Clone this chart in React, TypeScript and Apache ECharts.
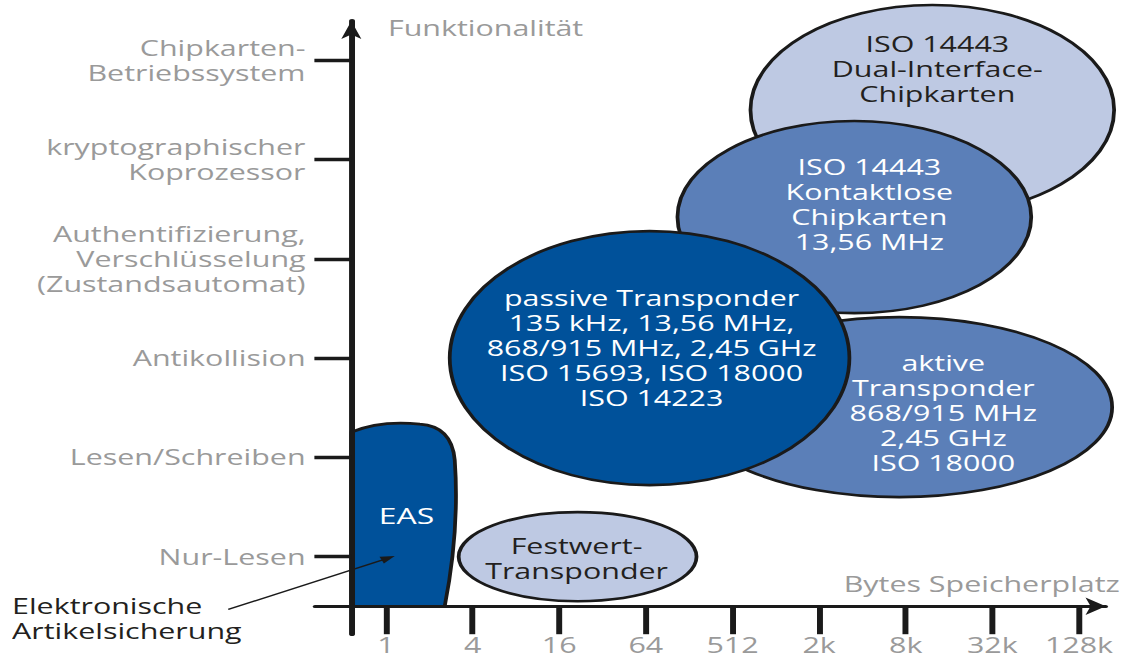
import React, { useEffect, useRef } from 'react';
import * as echarts from 'echarts';

// ---------- data ----------
const X_CATS = ['1', '4', '16', '64', '512', '2k', '8k', '32k', '128k'];
const X_TICKS = [0.4, 1.4, 2.4, 3.4, 4.4, 5.4, 6.4, 7.4, 8.4];

const Y_LEVELS = [
  'Nur-Lesen',
  'Lesen/Schreiben',
  'Antikollision',
  'Authentifizierung,\nVerschlüsselung\n(Zustandsautomat)',
  'kryptographischer\nKoprozessor',
  'Chipkarten-\nBetriebssystem',
];
const Y_TICKS = [0.5, 1.5, 2.5, 3.5, 4.5, 5.5];

// ellipses, drawn in this order (back to front)
const ELLIPSE_NAMES = ['Dual-Interface', 'Kontaktlos', 'aktiv', 'passiv', 'Festwert'];
const ELLIPSE_CX = [6.707, 5.807, 6.326, 3.443, 2.612];
const ELLIPSE_CY = [5.0, 3.921, 2.006, 2.5, 0.499];
const ELLIPSE_RX = [2.099, 2.042, 2.457, 2.307, 1.373];
const ELLIPSE_RY = [1.058, 0.968, 0.907, 1.28, 0.449];
const ELLIPSE_TONE = ['light', 'mid', 'mid', 'dark', 'light'];
const ELLIPSE_TEXT = [
  'ISO 14443\nDual-Interface-\nChipkarten',
  'ISO 14443\nKontaktlose\nChipkarten\n13,56 MHz',
  'aktive\nTransponder\n868/915 MHz\n2,45 GHz\nISO 18000',
  'passive Transponder\n135 kHz, 13,56 MHz,\n868/915 MHz, 2,45 GHz\nISO 15693, ISO 18000\nISO 14223',
  'Festwert-\nTransponder',
];
const ELLIPSE_TEXT_X = [6.765, 5.98, 6.834, 3.466, 2.6];
const ELLIPSE_TEXT_Y = [5.418, 4.047, 1.946, 2.601, 0.484];

// EAS outline (M p0 L p1 Q p2 p3 Q p4 p5 Q p6 p7 Z)
const EAS_X = [0, 0, 0.329, 0.79, 1.159, 1.194, 1.251, 1.078];
const EAS_Y = [0, 1.754, 1.875, 1.835, 1.815, 1.472, 0.766, 0];
const EAS_LABEL = ['EAS', 0.637, 0.917];

// annotation arrow
const ANNOT_FROM = [-1.421, -0.033];
const ANNOT_TO = [0.502, 0.507];

// ---------- styles ----------
const STRETCH = 1130 / 780;
const FONT = '"Open Sans", "Noto Sans", sans-serif';
const GRAY = '#9a9a9a';
const INK = '#231f20';
const AXIS = '#1a1a1a';
const TONES: Record<string, string> = { light: '#bec9e3', mid: '#5b7fb8', dark: '#00519a' };

function xLabel(v: number) {
  const i = X_TICKS.findIndex((t) => Math.abs(t - v) < 1e-6);
  return i >= 0 ? X_CATS[i] : '';
}
function yLabel(v: number) {
  const i = Y_TICKS.findIndex((t) => Math.abs(t - v) < 1e-6);
  return i >= 0 ? Y_LEVELS[i] : '';
}

function buildOption() {
  const ellipseData = ELLIPSE_NAMES.map((n, i) => ({
    name: n,
    value: [ELLIPSE_CX[i], ELLIPSE_CY[i], ELLIPSE_RX[i], ELLIPSE_RY[i], ELLIPSE_TEXT_X[i], ELLIPSE_TEXT_Y[i], i],
  }));

  return {
    animation: false,
    textStyle: { fontFamily: FONT },
    grid: { left: 217.4, right: 16.7, top: 21, bottom: 22, containLabel: false, outerBoundsMode: 'none' },
    xAxis: {
      type: 'value',
      min: -0.42,
      max: 8.71,
      z: 10,
      axisLine: {
        show: true,
        onZero: true,
        symbol: ['none', 'arrow'],
        symbolSize: [13, 14],
        lineStyle: { color: AXIS, width: 3 },
      },
      axisTick: { show: true, customValues: X_TICKS, length: 28, lineStyle: { color: AXIS, width: 4.1 } },
      axisLabel: {
        show: true,
        customValues: X_TICKS,
        formatter: xLabel,
        margin: 1,
        color: GRAY,
        fontSize: 21,
        lineHeight: 20,
        fontFamily: FONT,
      },
      splitLine: { show: false },
    },
    yAxis: {
      type: 'value',
      min: -0.28,
      max: 5.897,
      z: 10,
      axisLine: {
        show: true,
        onZero: true,
        symbol: ['none', 'arrow'],
        symbolSize: [10.4, 18],
        lineStyle: { color: AXIS, width: 4.1 },
      },
      axisTick: { show: true, customValues: Y_TICKS, length: 25.5, lineStyle: { color: AXIS, width: 3.3 } },
      axisLabel: {
        show: true,
        customValues: Y_TICKS,
        formatter: yLabel,
        margin: 6.5,
        color: GRAY,
        fontSize: 21,
        lineHeight: 25,
        align: 'right',
        fontFamily: FONT,
      },
      splitLine: { show: false },
    },
    graphic: [
      {
        type: 'text',
        x: 267.8,
        y: 28,
        style: { text: 'Funktionalität', fill: GRAY, font: `21px ${FONT}`, align: 'left', verticalAlign: 'middle' },
      },
      {
        type: 'text',
        x: 773,
        y: 584,
        style: { text: 'Bytes Speicherplatz', fill: GRAY, font: `21px ${FONT}`, align: 'right', verticalAlign: 'middle' },
      },
      {
        type: 'text',
        x: 8.3,
        y: 618.5,
        style: {
          text: 'Elektronische\nArtikelsicherung',
          fill: INK,
          font: `21px ${FONT}`,
          lineHeight: 25,
          align: 'left',
          verticalAlign: 'middle',
        },
      },
    ],
    series: [
      {
        type: 'custom',
        name: 'Bereiche',
        clip: false,
        z: 2,
        data: ellipseData,
        renderItem: (params: any, api: any) => {
          const c = api.coord([api.value(0), api.value(1)]);
          const s = api.size([api.value(2), api.value(3)]);
          const t = api.coord([api.value(4), api.value(5)]);
          const idx = api.value(6);
          const tone = ELLIPSE_TONE[idx];
          return {
            type: 'group',
            children: [
              {
                type: 'ellipse',
                shape: { cx: c[0], cy: c[1], rx: s[0], ry: s[1] },
                style: { fill: TONES[tone], stroke: AXIS, lineWidth: 2.6 },
              },
              {
                type: 'text',
                x: t[0],
                y: t[1],
                style: {
                  text: ELLIPSE_TEXT[idx],
                  fill: tone === 'light' ? INK : '#ffffff',
                  font: `21px ${FONT}`,
                  lineHeight: 25,
                  align: 'center',
                  verticalAlign: 'middle',
                },
              },
            ],
          };
        },
      },
      {
        type: 'custom',
        name: 'EAS',
        clip: false,
        z: 3,
        data: [[EAS_LABEL[1], EAS_LABEL[2]]],
        renderItem: (params: any, api: any) => {
          const p = EAS_X.map((x, i) => api.coord([x, EAS_Y[i]]));
          const f = (q: number[]) => `${q[0].toFixed(2)} ${q[1].toFixed(2)}`;
          const d =
            `M ${f(p[0])} L ${f(p[1])} Q ${f(p[2])} ${f(p[3])} Q ${f(p[4])} ${f(p[5])} Q ${f(p[6])} ${f(p[7])} Z`;
          const t = api.coord([api.value(0), api.value(1)]);
          return {
            type: 'group',
            children: [
              {
                type: 'path',
                shape: { pathData: d },
                style: { fill: TONES.dark, stroke: AXIS, lineWidth: 2.6 },
              },
              {
                type: 'text',
                x: t[0],
                y: t[1],
                style: {
                  text: EAS_LABEL[0] as string,
                  fill: '#ffffff',
                  font: `22px ${FONT}`,
                  align: 'center',
                  verticalAlign: 'middle',
                },
              },
            ],
          };
        },
      },
      {
        type: 'custom',
        name: 'Hinweis',
        clip: false,
        z: 4,
        data: [[ANNOT_FROM[0], ANNOT_FROM[1], ANNOT_TO[0], ANNOT_TO[1]]],
        renderItem: (params: any, api: any) => {
          const a = api.coord([api.value(0), api.value(1)]);
          const b = api.coord([api.value(2), api.value(3)]);
          const dx = b[0] - a[0];
          const dy = b[1] - a[1];
          const len = Math.sqrt(dx * dx + dy * dy);
          const ux = dx / len;
          const uy = dy / len;
          const nx = -uy;
          const ny = ux;
          const L = 10;
          const W = 3.6;
          const baseX = b[0] - ux * L;
          const baseY = b[1] - uy * L;
          return {
            type: 'group',
            children: [
              {
                type: 'line',
                shape: { x1: a[0], y1: a[1], x2: baseX + ux * 2, y2: baseY + uy * 2 },
                style: { stroke: AXIS, lineWidth: 1.4 },
              },
              {
                type: 'polygon',
                shape: {
                  points: [
                    [b[0], b[1]],
                    [baseX + nx * W, baseY + ny * W],
                    [baseX - nx * W, baseY - ny * W],
                  ],
                },
                style: { fill: AXIS },
              },
            ],
          };
        },
      },
    ],
  };
}

export default function App() {
  const ref = useRef<HTMLDivElement>(null);
  useEffect(() => {
    if (!ref.current) return;
    const chart = echarts.init(ref.current, null, { renderer: 'svg' });
    chart.setOption(buildOption() as any);
    return () => chart.dispose();
  }, []);
  return (
    <div
      style={{
        position: 'fixed',
        left: 0,
        top: 0,
        width: 1130,
        height: 656,
        overflow: 'hidden',
        background: '#ffffff',
      }}
    >
      <div
        ref={ref}
        style={{ width: 780, height: 656, transform: `scaleX(${STRETCH})`, transformOrigin: '0 0' }}
      />
    </div>
  );
}
